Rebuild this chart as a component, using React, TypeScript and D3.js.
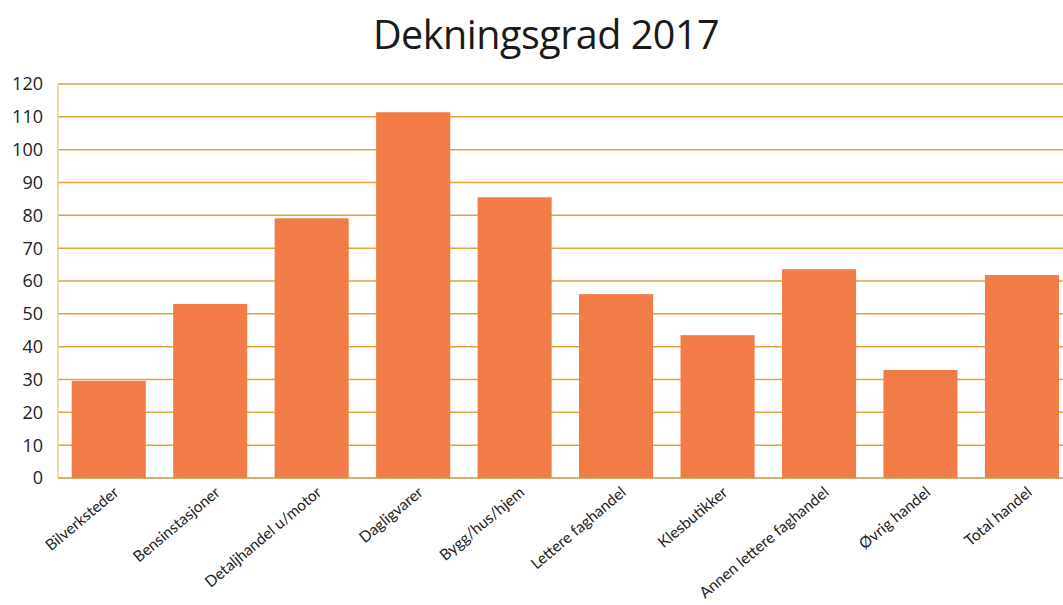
import React from "react";
import * as d3 from "d3";

const categories = [
  "Bilverksteder",
  "Bensinstasjoner",
  "Detaljhandel u/motor",
  "Dagligvarer",
  "Bygg/hus/hjem",
  "Lettere faghandel",
  "Klesbutikker",
  "Annen lettere faghandel",
  "Øvrig handel",
  "Total handel",
];
const values = [29.6, 53.0, 79.1, 111.4, 85.5, 56.0, 43.5, 63.6, 32.9, 61.8];
const yTicks = [0, 10, 20, 30, 40, 50, 60, 70, 80, 90, 100, 110, 120];
const title = "Dekningsgrad 2017";

export default function App() {
  const W = 1063;
  const H = 605;
  const left = 58;
  const top = 84;
  const bottom = 478;
  const x = d3.scaleBand<string>().domain(categories).range([left, 1072.7]).paddingInner(0.27).paddingOuter(0.135);
  const y = d3.scaleLinear().domain([0, 120]).range([bottom, top]);
  const font = "'Open Sans', 'DejaVu Sans', sans-serif";
  return (
    <svg width={W} height={H} style={{ position: "absolute", left: 0, top: 0 }}>
      <rect x={0} y={0} width={W} height={H} fill="#ffffff" />
      <text x={546} y={49} textAnchor="middle" fontFamily={font} fontSize={39.5} fill="#1a1a1a" letterSpacing={-0.5}>
        {title}
      </text>
      {yTicks.map((t) => (
        <g key={t}>
          {t > 0 && (
            <line x1={left} x2={W} y1={y(t)} y2={y(t)} stroke="#E2A33E" strokeWidth={1.5} />
          )}
          <text x={43} y={y(t)} dy="0.36em" textAnchor="end" fontFamily={font} fontSize={18} fill="#222">
            {t}
          </text>
        </g>
      ))}
      <line x1={left} x2={left} y1={top} y2={bottom} stroke="#E9C98E" strokeWidth={1.5} />
      {categories.map((c, i) => (
        <rect key={c} x={x(c)} y={y(values[i])} width={x.bandwidth()} height={bottom - y(values[i])} fill="#F27C48" />
      ))}
      <line x1={left} x2={W} y1={bottom} y2={bottom} stroke="#C9963A" strokeWidth={1.5} />
      {categories.map((c) => {
        const cx = (x(c) as number) + x.bandwidth() / 2;
        return (
          <text
            key={c}
            transform={`translate(${cx + 11},${bottom + 16}) rotate(-40)`}
            textAnchor="end"
            fontFamily="Lato, 'Open Sans', sans-serif"
            fontSize={15.5}
            fill="#222"
          >
            {c}
          </text>
        );
      })}
    </svg>
  );
}
